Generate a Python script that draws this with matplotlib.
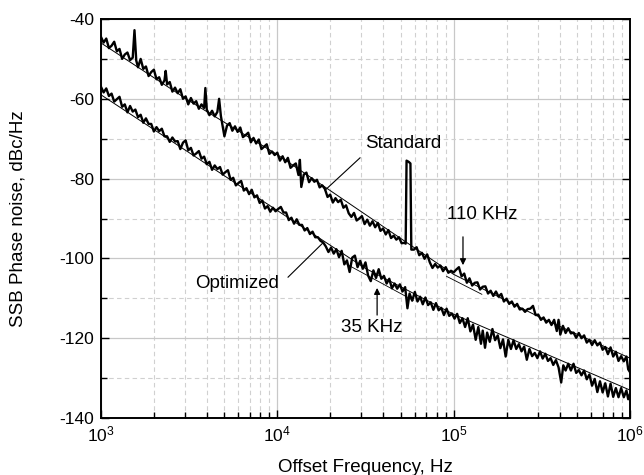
import matplotlib
matplotlib.use('Agg')
import matplotlib.pyplot as plt
import numpy as np

plt.rcParams['font.family'] = ['Liberation Sans', 'DejaVu Sans']
plt.rcParams['mathtext.fontset'] = 'custom'
plt.rcParams['mathtext.rm'] = 'Liberation Sans'
plt.rcParams['mathtext.it'] = 'Liberation Sans'
plt.rcParams['axes.unicode_minus'] = False

# measured curves, (log10 offset frequency, dBc/Hz)
std_pts = [
    (3.000, -44.5), (3.015, -45.9), (3.030, -44.9), (3.045, -47.3), (3.060, -46.7),
    (3.075, -45.7), (3.090, -48.1), (3.105, -47.5), (3.120, -50.0), (3.135, -48.9),
    (3.150, -48.4), (3.165, -50.3), (3.180, -49.7), (3.190, -42.8), (3.200, -50.4),
    (3.210, -52.1), (3.225, -50.0), (3.240, -52.5), (3.255, -51.9), (3.270, -54.3),
    (3.285, -53.3), (3.300, -52.7), (3.315, -55.1), (3.330, -54.6), (3.345, -56.5),
    (3.360, -55.4), (3.367, -53.0), (3.375, -56.4), (3.390, -55.8), (3.405, -58.2),
    (3.420, -57.2), (3.435, -58.6), (3.450, -57.6), (3.465, -60.0), (3.480, -59.4),
    (3.495, -61.4), (3.510, -59.8), (3.525, -61.2), (3.540, -60.6), (3.555, -62.5),
    (3.570, -61.4), (3.585, -62.3), (3.592, -57.3), (3.600, -62.7), (3.615, -64.1),
    (3.630, -63.0), (3.645, -64.4), (3.660, -63.3), (3.670, -60.0), (3.680, -64.3),
    (3.690, -66.8), (3.700, -69.4), (3.715, -66.7), (3.730, -66.1), (3.745, -68.0),
    (3.760, -66.9), (3.775, -68.3), (3.790, -67.2), (3.805, -69.6), (3.820, -69.1),
    (3.835, -68.5), (3.850, -70.9), (3.865, -69.8), (3.880, -71.2), (3.895, -70.2),
    (3.910, -72.6), (3.925, -72.0), (3.940, -71.4), (3.955, -73.8), (3.970, -73.2),
    (3.985, -74.1), (4.000, -73.5), (4.015, -75.5), (4.030, -74.4), (4.045, -75.9),
    (4.060, -74.8), (4.075, -77.3), (4.090, -76.7), (4.105, -76.2), (4.120, -79.1),
    (4.128, -75.3), (4.136, -82.1), (4.150, -79.0), (4.165, -78.5), (4.180, -80.9),
    (4.195, -79.9), (4.210, -80.8), (4.225, -80.3), (4.240, -82.2), (4.255, -81.7),
    (4.270, -82.6), (4.285, -84.6), (4.300, -84.0), (4.315, -86.0), (4.330, -84.9),
    (4.345, -85.9), (4.360, -85.3), (4.375, -87.3), (4.390, -86.7), (4.405, -88.7),
    (4.420, -89.6), (4.435, -88.6), (4.450, -90.5), (4.465, -90.0), (4.480, -89.4),
    (4.495, -91.4), (4.510, -90.3), (4.525, -91.8), (4.540, -90.7), (4.555, -92.2),
    (4.570, -91.1), (4.585, -93.1), (4.600, -92.5), (4.615, -94.0), (4.630, -92.9),
    (4.645, -94.9), (4.660, -94.3), (4.675, -95.3), (4.690, -94.7), (4.705, -96.2),
    (4.720, -96.1), (4.728, -96.3), (4.733, -75.5), (4.745, -75.8), (4.755, -76.2),
    (4.760, -97.8), (4.775, -97.8), (4.790, -97.2), (4.805, -99.2), (4.820, -98.6),
    (4.835, -100.1), (4.850, -99.0), (4.865, -101.0), (4.880, -102.4), (4.895, -101.4),
    (4.910, -102.3), (4.925, -101.8), (4.940, -103.2), (4.955, -102.2), (4.970, -103.6),
    (4.985, -103.1), (5.000, -103.5), (5.015, -102.8), (5.030, -102.2), (5.045, -104.5),
    (5.060, -103.8), (5.075, -106.1), (5.090, -105.0), (5.105, -106.8), (5.120, -106.1),
    (5.135, -106.0), (5.150, -107.8), (5.165, -107.1), (5.180, -107.0), (5.195, -108.8),
    (5.210, -108.1), (5.225, -109.4), (5.240, -108.3), (5.255, -109.6), (5.270, -108.9),
    (5.285, -110.8), (5.300, -110.1), (5.315, -111.4), (5.330, -110.8), (5.345, -112.1),
    (5.360, -111.4), (5.375, -112.8), (5.390, -112.6), (5.405, -113.4), (5.420, -112.7),
    (5.435, -112.6), (5.450, -111.9), (5.465, -114.2), (5.480, -114.1), (5.495, -115.4),
    (5.510, -114.8), (5.525, -116.1), (5.540, -115.4), (5.555, -116.7), (5.570, -115.4),
    (5.585, -118.2), (5.595, -115.4), (5.605, -119.1), (5.620, -116.9), (5.635, -118.7),
    (5.650, -117.5), (5.665, -118.8), (5.680, -118.6), (5.695, -119.9), (5.710, -118.7),
    (5.725, -120.0), (5.740, -119.3), (5.755, -121.1), (5.770, -120.4), (5.785, -121.7),
    (5.800, -120.5), (5.815, -121.8), (5.830, -121.1), (5.845, -122.9), (5.860, -122.2),
    (5.875, -124.0), (5.890, -122.3), (5.905, -124.6), (5.920, -123.4), (5.935, -125.7),
    (5.950, -124.5), (5.965, -125.8), (5.980, -124.6), (5.990, -127.8), (6.000, -128.5),
]

opt_pts = [
    (3.000, -57.0), (3.015, -58.4), (3.030, -57.4), (3.045, -59.3), (3.060, -58.7),
    (3.075, -60.7), (3.090, -60.1), (3.105, -59.5), (3.120, -62.0), (3.135, -61.4),
    (3.150, -63.4), (3.165, -61.8), (3.180, -63.2), (3.195, -62.7), (3.210, -64.6),
    (3.225, -64.0), (3.240, -66.0), (3.255, -64.9), (3.270, -66.3), (3.285, -66.3),
    (3.300, -68.2), (3.315, -67.1), (3.330, -68.1), (3.345, -67.5), (3.360, -69.4),
    (3.375, -69.4), (3.390, -70.8), (3.405, -69.7), (3.420, -70.7), (3.435, -70.6),
    (3.450, -72.6), (3.465, -71.0), (3.480, -70.4), (3.495, -72.9), (3.510, -72.3),
    (3.525, -74.2), (3.540, -73.7), (3.555, -73.1), (3.570, -75.0), (3.585, -74.5),
    (3.600, -76.4), (3.615, -75.8), (3.630, -77.8), (3.645, -76.7), (3.660, -77.6),
    (3.675, -77.1), (3.690, -79.0), (3.705, -78.4), (3.720, -77.9), (3.735, -80.3),
    (3.750, -79.8), (3.765, -81.7), (3.780, -81.1), (3.795, -80.6), (3.810, -83.0),
    (3.825, -82.4), (3.840, -83.9), (3.855, -82.8), (3.870, -84.7), (3.885, -84.2),
    (3.900, -86.1), (3.915, -85.5), (3.930, -87.5), (3.945, -86.9), (3.960, -88.3),
    (3.975, -87.3), (3.990, -88.2), (4.005, -87.6), (4.020, -87.1), (4.035, -88.5),
    (4.050, -88.5), (4.065, -90.4), (4.080, -89.8), (4.095, -91.3), (4.110, -90.2),
    (4.125, -91.6), (4.140, -91.6), (4.155, -93.0), (4.170, -92.4), (4.185, -93.9),
    (4.200, -93.3), (4.215, -94.7), (4.230, -94.7), (4.245, -95.6), (4.260, -96.0),
    (4.275, -97.0), (4.290, -98.4), (4.305, -97.3), (4.320, -98.8), (4.335, -97.7),
    (4.350, -99.7), (4.365, -98.1), (4.380, -101.5), (4.395, -100.5), (4.410, -103.4),
    (4.425, -99.8), (4.440, -99.3), (4.455, -102.2), (4.470, -100.6), (4.485, -102.6),
    (4.500, -101.0), (4.515, -104.3), (4.530, -105.7), (4.545, -103.0), (4.560, -104.9),
    (4.575, -102.7), (4.590, -105.1), (4.605, -104.4), (4.620, -106.3), (4.635, -105.1),
    (4.650, -107.5), (4.665, -106.3), (4.680, -107.6), (4.695, -106.5), (4.710, -108.3),
    (4.725, -107.2), (4.738, -112.5), (4.750, -108.8), (4.765, -110.6), (4.780, -108.4),
    (4.795, -110.8), (4.810, -109.6), (4.825, -111.5), (4.840, -109.8), (4.855, -111.7),
    (4.870, -111.0), (4.885, -112.9), (4.900, -111.2), (4.915, -113.0), (4.930, -112.4),
    (4.945, -114.2), (4.960, -112.6), (4.975, -114.4), (4.990, -113.8), (5.005, -115.1),
    (5.020, -113.9), (5.035, -116.2), (5.050, -115.0), (5.065, -117.2), (5.080, -115.0),
    (5.095, -118.3), (5.110, -116.6), (5.125, -120.4), (5.140, -117.2), (5.155, -121.4),
    (5.165, -118.1), (5.178, -122.4), (5.190, -118.6), (5.205, -120.9), (5.220, -117.7),
    (5.235, -120.5), (5.250, -119.3), (5.265, -122.5), (5.280, -120.3), (5.295, -124.6),
    (5.310, -120.4), (5.325, -122.7), (5.340, -120.5), (5.355, -122.7), (5.370, -121.5),
    (5.385, -123.3), (5.400, -122.1), (5.415, -125.4), (5.430, -122.7), (5.445, -124.5),
    (5.460, -123.7), (5.475, -125.0), (5.490, -123.3), (5.505, -125.1), (5.520, -123.9),
    (5.535, -125.7), (5.550, -125.0), (5.565, -126.7), (5.580, -125.5), (5.595, -127.3),
    (5.610, -131.1), (5.622, -126.8), (5.635, -128.1), (5.650, -126.4), (5.665, -128.1),
    (5.680, -126.4), (5.695, -128.7), (5.710, -128.0), (5.725, -129.3), (5.740, -128.1),
    (5.755, -130.3), (5.770, -129.1), (5.785, -131.9), (5.800, -130.2), (5.815, -133.5),
    (5.830, -130.8), (5.845, -133.6), (5.860, -131.3), (5.875, -134.6), (5.890, -131.4),
    (5.905, -134.7), (5.920, -132.5), (5.935, -134.8), (5.950, -132.5), (5.965, -134.8),
    (5.980, -133.1), (5.990, -135.3), (6.000, -134.0),
]

# fitted model curves
fit_logf = [3.0, 3.5, 4.0, 4.5, 5.0, 5.5, 6.0]
std_fit_db = [-46.0, -60.5, -74.0, -89.0, -104.0, -115.0, -125.0]
opt_fit_db = [-59.0, -73.5, -88.0, -102.5, -114.0, -123.5, -133.0]
# short second fits
std_fit2_logf = [4.96, 5.16]
std_fit2_db = [-104.5, -109.0]
opt_fit2_logf = [4.395, 4.77]
opt_fit2_db = [-101.5, -110.5]


def main():
    fig = plt.figure(figsize=(6.44, 4.75), dpi=100)
    ax = fig.add_axes([0.1568, 0.12, 0.8214, 0.84])

    for pts in (std_pts, opt_pts):
        lf, db = zip(*pts)
        ax.plot(10 ** np.array(lf), db, color='black', lw=1.7, zorder=3)

    ax.plot(10 ** np.array(fit_logf), std_fit_db, color='black', lw=0.7, zorder=4)
    ax.plot(10 ** np.array(fit_logf), opt_fit_db, color='black', lw=0.7, zorder=4)
    ax.plot(10 ** np.array(std_fit2_logf), std_fit2_db, color='black', lw=0.6, zorder=4)
    ax.plot(10 ** np.array(opt_fit2_logf), opt_fit2_db, color='black', lw=0.6, zorder=4)

    ax.set_xscale('log')
    ax.set_xlim(1e3, 1e6)
    ax.set_ylim(-140, -40)
    ax.set_yticks(np.arange(-140, -39, 20))
    ax.set_yticks(np.arange(-130, -40, 20), minor=True)

    ax.grid(True, which='major', color='#c8c8c8', lw=0.9, ls='-')
    ax.grid(True, which='minor', color='#d0d0d0', lw=0.8, ls=(0, (4, 3)))
    ax.set_axisbelow(True)

    ax.tick_params(which='both', direction='in', top=False, right=True,
                   labelsize=12.5, width=1.0, colors='black')
    ax.tick_params(which='major', length=6)
    ax.tick_params(which='minor', length=4)
    ax.tick_params(axis='x', pad=5)
    ax.tick_params(axis='y', pad=5)
    for s in ax.spines.values():
        s.set_linewidth(1.4)

    ax.set_xlabel('Offset Frequency, Hz', fontsize=13.5, labelpad=10)
    ax.set_ylabel('SSB Phase noise, dBc/Hz', fontsize=13.5)
    ax.yaxis.set_label_coords(-0.14, 0.5)

    # annotations
    tsize = 13.5
    ax.text(10 ** 4.713, -71.3, 'Standard', fontsize=tsize, ha='center', va='center')
    ax.plot([10 ** 4.469, 10 ** 4.271], [-74.8, -82.9], color='black', lw=0.8, zorder=5)
    ax.text(10 ** 3.771, -106.2, 'Optimized', fontsize=tsize, ha='center', va='center')
    ax.plot([10 ** 4.061, 10 ** 4.259], [-104.7, -96.1], color='black', lw=0.8, zorder=5)
    ax.text(10 ** 5.161, -89.1, '110 KHz', fontsize=tsize, ha='center', va='center')
    ax.annotate('', xy=(10 ** 5.053, -101.7), xytext=(10 ** 5.053, -94.6),
                arrowprops=dict(arrowstyle='-|>', color='black', lw=0.9,
                                mutation_scale=9, shrinkA=0, shrinkB=0))
    ax.text(10 ** 4.537, -117.4, '35 KHz', fontsize=tsize, ha='center', va='center')
    ax.annotate('', xy=(10 ** 4.566, -107.4), xytext=(10 ** 4.566, -114.2),
                arrowprops=dict(arrowstyle='-|>', color='black', lw=0.9,
                                mutation_scale=9, shrinkA=0, shrinkB=0))

    fig.savefig('out.png', dpi=100)


if __name__ == "__main__":
    main()
